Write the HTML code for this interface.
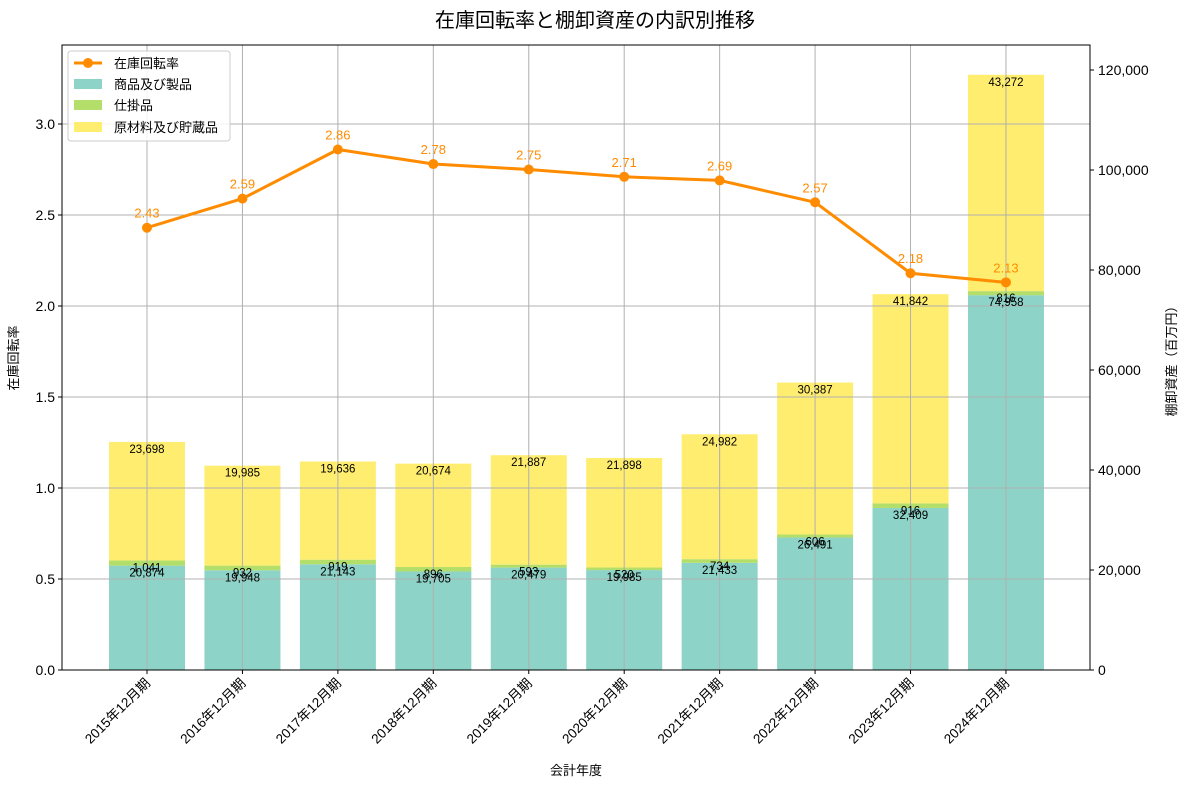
<!DOCTYPE html>
<html><head><meta charset="utf-8"><style>
body{margin:0;background:#fff;font-family:"Liberation Sans","Noto Sans CJK JP",sans-serif}
</style></head><body>
<svg id="c" width="1189" height="789" xmlns="http://www.w3.org/2000/svg" font-family="Liberation Sans, Noto Sans CJK JP, sans-serif"></svg>
<script>
const categories=["2015年12月期","2016年12月期","2017年12月期","2018年12月期","2019年12月期","2020年12月期","2021年12月期","2022年12月期","2023年12月期","2024年12月期"];
const products=[20874,19948,21143,19705,20479,19985,21433,26491,32409,74958];
const wip=[1041,932,919,896,593,520,734,606,916,816];
const raw=[23698,19985,19636,20674,21887,21898,24982,30387,41842,43272];
const turnover=[2.43,2.59,2.86,2.78,2.75,2.71,2.69,2.57,2.18,2.13];
const leftTicks=[0,0.5,1.0,1.5,2.0,2.5,3.0];
const rightTicks=[0,20000,40000,60000,80000,100000,120000];
const L=62,R=1090,T=45,B=670;
const xs=i=>147+i*95.44;
const yl=v=>B-v*182;
const yr=v=>B-v*0.005;
const svg=document.getElementById('c');
const NS="http://www.w3.org/2000/svg";
function mk(tag,attrs,text){const e=document.createElementNS(NS,tag);for(const k in attrs)e.setAttribute(k,attrs[k]);if(text!==undefined)e.textContent=text;svg.appendChild(e);return e;}
const fmt=v=>v.toLocaleString('en-US');
// bars
categories.forEach((c,i)=>{
  const segs=[[products[i],'#8dd3c7'],[wip[i],'#b3de69'],[raw[i],'#ffed6f']];
  let base=0;
  segs.forEach(([v,col],k)=>{
    const r=mk('rect',{x:xs(i)-38,y:yr(base+v),width:76,height:yr(base)-yr(base+v),fill:col});
    
    
    base+=v;
  });
});
// grid
leftTicks.forEach(t=>{const g=mk('line',{x1:L,x2:R,y1:yl(t),y2:yl(t),stroke:'#b0b0b0','stroke-width':1});});
categories.forEach((c,i)=>{const g=mk('line',{x1:xs(i),x2:xs(i),y1:T,y2:B,stroke:'#b0b0b0','stroke-width':1});});
// bar labels
categories.forEach((c,i)=>{
  let base=0;
  [products[i],wip[i],raw[i]].forEach((v,k)=>{
    base+=v;
    const t=mk('text',{x:xs(i),y:yr(base)+11,'text-anchor':'middle','font-size':11.5,fill:'#000'},fmt(v));
    
    
  });
});
// line
const pts=turnover.map((v,i)=>xs(i)+','+yl(v)).join(' ');
const pl=mk('polyline',{points:pts,fill:'none',stroke:'#ff8c00','stroke-width':3});

turnover.forEach((v,i)=>{
  const p=mk('circle',{cx:xs(i),cy:yl(v),r:5,fill:'#ff8c00'});
  
  const t=mk('text',{x:xs(i),y:yl(v)-10,'text-anchor':'middle','font-size':13,fill:'#ff8c00'},v.toFixed(2));
  
});
// frame
const fr=mk('rect',{x:L,y:T,width:R-L,height:B-T,fill:'none',stroke:'#000','stroke-width':1});

leftTicks.forEach(t=>{mk('line',{x1:L-4,x2:L,y1:yl(t),y2:yl(t),stroke:'#000'});
  const e=mk('text',{x:L-7,y:yl(t)+5,'text-anchor':'end','font-size':14},t.toFixed(1));});
rightTicks.forEach(t=>{mk('line',{x1:R,x2:R+4,y1:yr(t),y2:yr(t),stroke:'#000'});
  const e=mk('text',{x:R+8,y:yr(t)+5,'font-size':14},fmt(t));});
categories.forEach((c,i)=>{mk('line',{x1:xs(i),x2:xs(i),y1:B,y2:B+4,stroke:'#000'});
  const e=mk('text',{x:xs(i)+4,y:B+14,'text-anchor':'end','font-size':13.5,transform:`rotate(-45 ${xs(i)+4} ${B+14})`},c);});
</script>
<svg style="position:absolute;left:0;top:0" width="1189" height="789" font-family="Liberation Sans, Noto Sans CJK JP, sans-serif">
<text x="595" y="27" text-anchor="middle" font-size="20">在庫回転率と棚卸資産の内訳別推移</text>
<text x="576" y="775" text-anchor="middle" font-size="13">会計年度</text>
<text x="18" y="358" text-anchor="middle" font-size="13" transform="rotate(-90 18 358)">在庫回転率</text>
<text x="1176" y="358" text-anchor="middle" font-size="13" transform="rotate(-90 1176 358)">棚卸資産（百万円）</text>
<g>
<rect x="68" y="51" width="162" height="90" fill="#fff" fill-opacity="0.85" stroke="#ccc" rx="3"/>
<line x1="74" y1="63" x2="102" y2="63" stroke="#ff8c00" stroke-width="3"/><circle cx="88" cy="63" r="5" fill="#ff8c00"/>
<text x="114" y="68" font-size="13">在庫回転率</text>
<rect x="74" y="79" width="28" height="10" fill="#8dd3c7"/><text x="114" y="89" font-size="13">商品及び製品</text>
<rect x="74" y="100" width="28" height="10" fill="#b3de69"/><text x="114" y="110" font-size="13">仕掛品</text>
<rect x="74" y="122" width="28" height="10" fill="#ffed6f"/><text x="114" y="132" font-size="13">原材料及び貯蔵品</text>
</g>
</svg>
</body></html>
